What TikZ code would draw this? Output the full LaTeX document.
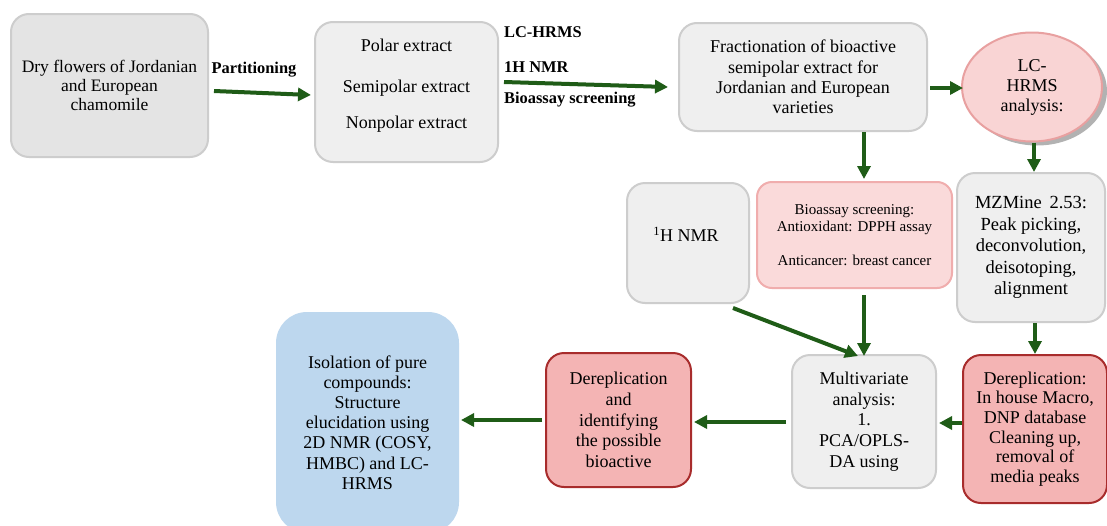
\documentclass[tikz,border=0pt]{standalone}
\usepackage{fontspec}
\setmainfont{Liberation Serif}
\usetikzlibrary{calc,shadows,arrows.meta,shapes.geometric}
\definecolor{arrgreen}{HTML}{1F5C17}
\definecolor{grayfillA}{HTML}{E4E4E4}
\definecolor{grayfill}{HTML}{EFEFEF}
\definecolor{grayline}{HTML}{CDCDCD}
\definecolor{pinkfill}{HTML}{FADADA}
\definecolor{pinkline}{HTML}{F0ADAD}
\definecolor{ellfill}{HTML}{F9D4D4}
\definecolor{ellline}{HTML}{E8A0A0}
\definecolor{redfill}{HTML}{F4B4B4}
\definecolor{redline}{HTML}{A82C2C}
\definecolor{bluefill}{HTML}{BDD7EE}
\tikzset{
  basebox/.style={rectangle, rounded corners=18pt, align=center, inner sep=0pt, line width=2pt},
  graybox/.style={basebox, fill=grayfill, draw=grayline},
  pinkbox/.style={basebox, fill=pinkfill, draw=pinkline},
  redbox/.style={basebox, fill=redfill, draw=redline},
  bluebox/.style={basebox, fill=bluefill, draw=bluefill, rounded corners=30pt},
  txt/.style={align=center, inner sep=0pt, font=\fontsize{18}{20.5}\selectfont},
  lbl/.style={inner sep=0pt, font=\bfseries\fontsize{16.4}{18}\selectfont},
  arr/.style={draw=arrgreen, line width=4pt, -{Triangle[length=13pt,width=13pt]}},
}
\begin{document}
\begin{tikzpicture}[x=1pt,y=-1pt]
\useasboundingbox (0,0) rectangle (1107,525);
\clip (0,0) rectangle (1107,525);
\fill[white] (0,0) rectangle (1107,525);

% top row
\node[graybox, fill=grayfillA, minimum width=197pt, minimum height=143pt,
      font=\fontsize{17.5}{18.8}\selectfont] (n1) at (109.5,85.5)
  {Dry flowers of Jordanian\\and European\\chamomile};
\node[lbl] (lpart) at (254,70) {Partitioning};

\node[graybox, minimum width=183pt, minimum height=140pt] (n2) at (406.5,92) {};
\node[txt] (n2t) at (406.5,85.5) {Polar extract\\[20pt]Semipolar extract\\[15.5pt]Nonpolar extract};

\node[lbl, anchor=west] (l1) at (504,32) {LC-HRMS};
\node[lbl, anchor=west] (l2) at (504,67) {1H NMR};
\node[lbl, anchor=west] (l3) at (504,100) {Bioassay screening};

\node[graybox, minimum width=248pt, minimum height=108pt,
      font=\fontsize{18}{20.3}\selectfont] (n3) at (803,77)
  {Fractionation of bioactive\\semipolar extract for\\Jordanian and European\\varieties};

\node[ellipse, fill=ellfill, draw=ellline, line width=2pt, minimum width=140pt,
      minimum height=109pt, inner sep=0pt, align=center,
      drop shadow={shadow xshift=5pt, shadow yshift=-4pt, fill=black!55, opacity=0.55},
      font=\fontsize{18}{20}\selectfont] (e1) at (1032,87)
  {LC-\\HRMS\\analysis:};

% middle row
\node[graybox, minimum width=122pt, minimum height=120pt] (n4) at (688,243) {};
\node[txt] (n4t) at (686,234) {\textsuperscript{1}H NMR};

\node[pinkbox, rounded corners=15pt, minimum width=195pt, minimum height=106pt,
      font=\fontsize{15}{17}\selectfont] (n5) at (854.5,235)
  {Bioassay screening:\\Antioxidant: DPPH assay\\[17pt]Anticancer: breast cancer};

\node[graybox, minimum width=148pt, minimum height=149pt,
      font=\fontsize{18.5}{21.5}\selectfont] (n6) at (1031,247.5)
  {MZMine\, 2.53:\\Peak picking,\\deconvolution,\\deisotoping,\\alignment};

% bottom row
\node[graybox, minimum width=144pt, minimum height=133pt,
      font=\fontsize{18}{20.7}\selectfont] (n7) at (864,421.5)
  {Multivariate\\analysis:\\1.\\PCA/OPLS-\\DA using};

\node[redbox, minimum width=144pt, minimum height=148pt,
      font=\fontsize{18}{19.6}\selectfont] (n8) at (1035,429)
  {Dereplication:\\In house Macro,\\DNP database\\Cleaning up,\\removal of\\media peaks};

\node[redbox, minimum width=145pt, minimum height=134pt,
      font=\fontsize{18}{20.7}\selectfont] (n9) at (618.5,420)
  {Dereplication\\and\\identifying\\the possible\\bioactive};

\node[bluebox, minimum width=181pt, minimum height=219pt,
      font=\fontsize{18}{20.2}\selectfont] (n10) at (367.5,422.5)
  {Isolation of pure\\compounds:\\Structure\\elucidation using\\2D NMR (COSY,\\HMBC) and LC-\\HRMS};

% connectors
\draw[arr] ($(n1.east)+(5,5.5)$) -- ($(n2.west)+(-3,3)$);
\draw[arr] ($(n2.east)+(5,-10)$) -- ($(n3.west)+(-10,10)$);
\draw[arr] ($(n3.east)+(2,11)$) -- ($(e1.west)+(2,1)$);
\draw[arr] ($(e1.south)+(2,0)$) -- ($(n6.north)+(3,0)$);
\draw[arr] (n3.south -| n7.north) -- ($(n5.north -| n7.north)+(0,-2)$);
\draw[arr] ($(n5.south -| n7.north)+(0,6)$) -- ($(n7.north)+(0,2)$);
\draw[arr] ($(n4.south east)+(-17,4)$) -- ($(n7.north)+(-6,2)$);
\draw[arr] (n6.south -| n8.north) -- (n8.north);
\draw[arr] ($(n8.west)+(0,-6)$) -- ($(n7.east)+(2,1.5)$);
\draw[arr] ($(n7.west)+(-5,0.5)$) -- ($(n9.east)+(2,2)$);
\draw[arr] ($(n9.west)+(-3,0)$) -- ($(n10.east |- n9.west)+(2,0)$);
\end{tikzpicture}
\end{document}
